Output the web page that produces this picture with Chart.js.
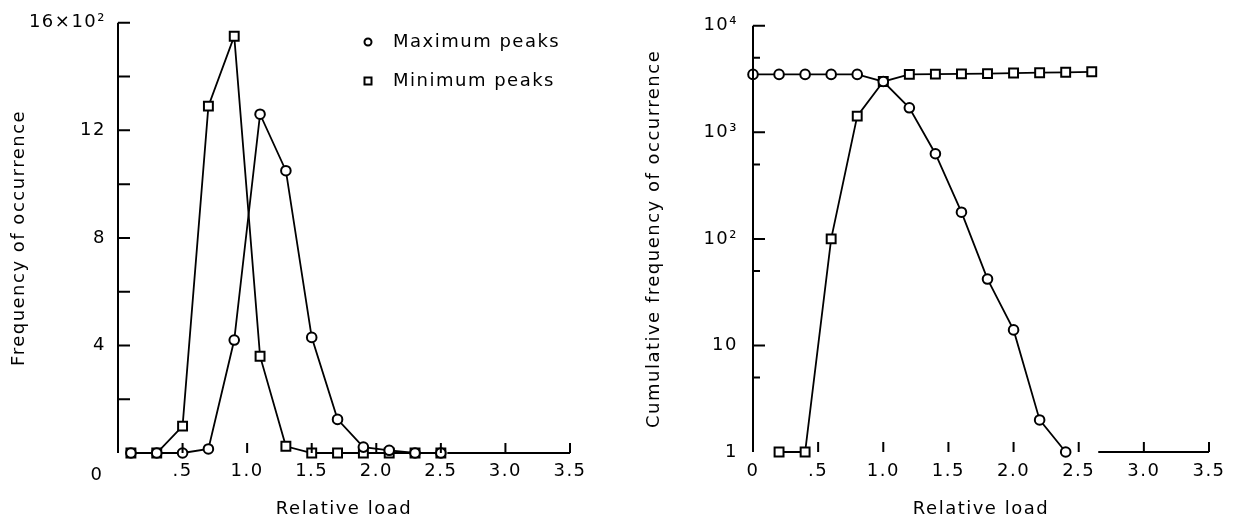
<!DOCTYPE html>
<html>
<head>
<meta charset="utf-8">
<script src="https://cdn.jsdelivr.net/npm/chart.js@4.4.0/dist/chart.umd.min.js"></script>
<style>
    html, body { margin: 0; padding: 0; background: #fff; }
    #wrap { position: relative; width: 1239px; height: 524px; }
    canvas { position: absolute; top: 0; }
    #left { left: 0; }
    #right { left: 620px; }
</style>
</head>
<body>
<div id="wrap">
    <canvas id="left" width="620" height="524"></canvas>
    <canvas id="right" width="619" height="524"></canvas>
</div>
<script>
'use strict'

// Left panel: frequency of occurrence (in hundreds)
const loadLeft = [0.1, 0.3, 0.5, 0.7, 0.9, 1.1, 1.3, 1.5, 1.7, 1.9, 2.1, 2.3, 2.5];
const maxPeaks = [0, 0, 0, 0.15, 4.2, 12.6, 10.5, 4.3, 1.25, 0.22, 0.1, 0, 0];
const minPeaks = [0, 0, 1.0, 12.9, 15.5, 3.6, 0.25, 0, 0, 0, 0, 0, 0];
const freqTicks = [4, 8, 12, 16];
const freqMarks = [2, 4, 6, 8, 10, 12, 14, 16];

// Right panel: cumulative frequency of occurrence
const loadMaxCum = [0, 0.2, 0.4, 0.6, 0.8, 1.0, 1.2, 1.4, 1.6, 1.8, 2.0, 2.2, 2.4];
const maxCum = [3500, 3500, 3500, 3500, 3500, 3000, 1700, 630, 178, 42, 14, 2, 1];
const loadMinCum = [0.2, 0.4, 0.6, 0.8, 1.0, 1.2, 1.4, 1.6, 1.8, 2.0, 2.2, 2.4, 2.6];
const minCum = [1, 1, 100, 1420, 3000, 3500, 3520, 3540, 3560, 3600, 3630, 3660, 3700];
const cumTicks = [1, 10, 100, 1000, 10000];
const cumMinor = [5, 50, 500, 5000];
const cumLabels = {1: '1', 10: '10', 100: '10²', 1000: '10³', 10000: '10⁴'};

const loadTicks = [0, 0.5, 1.0, 1.5, 2.0, 2.5, 3.0, 3.5];

const FONT = 'DejaVu Sans';
const INK = '#000';

const fmtLoad = v => v === 0 ? '0' : (v < 1 ? '.5' : v.toFixed(1));

const framePlugin = {
    id: 'frame',
    beforeDraw(chart) {
        chart.ctx.letterSpacing = '1.5px';
    },
    afterDatasetsDraw(chart, args, opts) {
        const {ctx, chartArea: a, scales: {x, y}} = chart;
        ctx.save();
        ctx.strokeStyle = INK;
        ctx.lineWidth = 2;
        ctx.beginPath();
        ctx.moveTo(a.left, a.top);
        ctx.lineTo(a.left, a.bottom);
        opts.yMajor.forEach(v => {
            const p = y.getPixelForValue(v);
            ctx.moveTo(a.left, p);
            ctx.lineTo(a.left + opts.majorLen, p);
        });
        opts.yMinor.forEach(v => {
            const p = y.getPixelForValue(v);
            ctx.moveTo(a.left, p);
            ctx.lineTo(a.left + opts.minorLen, p);
        });
        ctx.moveTo(x.getPixelForValue(opts.axisFrom), a.bottom);
        ctx.lineTo(x.getPixelForValue(x.max), a.bottom);
        opts.xMarks.forEach(v => {
            const p = x.getPixelForValue(v);
            ctx.moveTo(p, a.bottom);
            ctx.lineTo(p, a.bottom - 10);
        });
        ctx.stroke();

        if (opts.legend) {
            ctx.fillStyle = INK;
            ctx.font = '18px "' + FONT + '"';
            ctx.textBaseline = 'middle';
            ctx.textAlign = 'left';
            ctx.letterSpacing = '1.5px';
            ctx.beginPath();
            ctx.arc(368, 42, 3.5, 0, Math.PI * 2);
            ctx.stroke();
            ctx.strokeRect(364.5, 77.5, 7, 7);
            ctx.fillText('Maximum peaks', 393, 42);
            ctx.fillText('Minimum peaks', 393, 81);
            ctx.font = '18px "' + FONT + '"';
            ctx.textAlign = 'center';
            ctx.fillText('0', 97, 475);
        }
        ctx.restore();
    }
};

const lineSet = (xs, ys, style, r) => ({
    data: xs.map((v, i) => ({x: v, y: ys[i]})),
    borderColor: INK,
    borderWidth: 1.8,
    pointStyle: style,
    pointRadius: r,
    pointBorderWidth: 2,
    pointBorderColor: INK,
    pointBackgroundColor: '#fff',
    tension: 0,
    clip: false
});

const tickFont = {family: FONT, size: 18};
const titleFont = {family: FONT, size: 18};

const xScale = (ticks, height, pad) => ({
    type: 'linear',
    min: 0,
    max: 3.5,
    afterBuildTicks: s => { s.ticks = ticks.map(v => ({value: v})); },
    afterFit: s => { s.height = height; },
    grid: {display: false, drawTicks: false},
    border: {display: false},
    ticks: {autoSkip: false, maxRotation: 0, padding: pad, color: INK, font: tickFont, callback: v => fmtLoad(v)},
    title: {display: true, text: 'Relative load', color: INK, font: titleFont, padding: {top: 4, bottom: 4}}
});

new Chart(document.getElementById('left'), {
    type: 'scatter',
    data: {
        datasets: [
            lineSet(loadLeft, maxPeaks, 'circle', 4.8),
            lineSet(loadLeft, minPeaks, 'rect', 6.3)
        ]
    },
    options: {
        responsive: false,
        animation: false,
        showLine: true,
        layout: {padding: {left: 5, right: 50, top: 19, bottom: 0}},
        plugins: {
            legend: {display: false},
            tooltip: {enabled: false},
            frame: {yMajor: freqMarks, yMinor: [], majorLen: 12, minorLen: 12, axisFrom: 2.55, xMarks: loadTicks.slice(1), legend: true}
        },
        scales: {
            x: xScale(loadTicks.slice(1), 71, 8),
            y: {
                type: 'linear',
                min: 0,
                max: 16,
                afterBuildTicks: s => { s.ticks = freqTicks.map(v => ({value: v})); },
                afterFit: s => { s.width = 113; },
                grid: {display: false, drawTicks: false},
                border: {display: false},
                ticks: {padding: 12, color: INK, font: tickFont, callback: v => v === 16 ? '16×10²' : String(v)},
                title: {display: true, text: 'Frequency of occurrence', color: INK, font: titleFont, padding: {top: 4, bottom: 4}}
            }
        }
    },
    plugins: [framePlugin]
});

new Chart(document.getElementById('right'), {
    type: 'scatter',
    data: {
        datasets: [
            lineSet(loadMaxCum, maxCum, 'circle', 4.8),
            lineSet(loadMinCum, minCum, 'rect', 6.3)
        ]
    },
    options: {
        responsive: false,
        animation: false,
        showLine: true,
        layout: {padding: {left: 20, right: 30, top: 22, bottom: 0}},
        plugins: {
            legend: {display: false},
            tooltip: {enabled: false},
            frame: {yMajor: cumTicks.slice(1), yMinor: cumMinor, majorLen: 12, minorLen: 7, axisFrom: 2.65, xMarks: loadTicks.slice(1), legend: false}
        },
        scales: {
            x: xScale(loadTicks, 72, 9),
            y: {
                type: 'logarithmic',
                min: 1,
                max: 10000,
                afterBuildTicks: s => { s.ticks = cumTicks.map(v => ({value: v})); },
                afterFit: s => { s.width = 113; },
                grid: {display: false, drawTicks: false},
                border: {display: false},
                ticks: {padding: 15, color: INK, font: tickFont, callback: v => cumLabels[v]},
                title: {display: true, text: 'Cumulative frequency of occurrence', color: INK, font: titleFont, padding: {top: 4, bottom: 4}}
            }
        }
    },
    plugins: [framePlugin]
});
</script>
</body>
</html>
